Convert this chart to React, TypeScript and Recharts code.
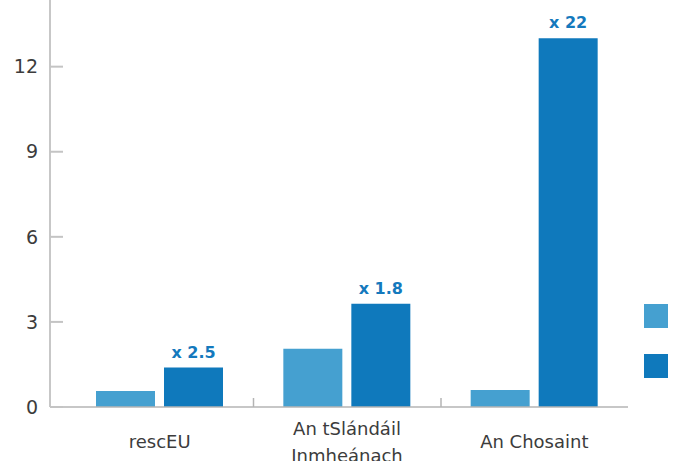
import { BarChart, Bar, XAxis, YAxis, Legend, LabelList } from "recharts"

const categories = ["rescEU", "An tSlándáil Inmheánach", "An Chosaint"]
const seriesNames = ["2014-2020", "2021-2027"]
const before = [0.56, 2.05, 0.6]
const after = [1.39, 3.64, 13.0]
const multipliers = ["x 2.5", "x 1.8", "x 22"]
const yTicks = [0, 3, 6, 9, 12]
const boundaryTicks = [1, 2]

const data = categories.map((name, i) => ({
  name,
  before: before[i],
  after: after[i],
  mult: multipliers[i],
}))

const font = "'DejaVu Sans', sans-serif"
const axisGrey = "#b4b4b4"

// long labels go on two lines, split at the last space
function splitLabel(s: string) {
  if (s.length <= 14) return [s]
  const k = s.lastIndexOf(" ")
  return [s.slice(0, k), s.slice(k + 1)]
}

function CategoryTick({ x, y, payload }: any) {
  const lines = splitLabel(String(payload.value))
  const lh = 27
  const first = 6 - ((lines.length - 1) * lh) / 2
  return (
    <text x={x} y={y} textAnchor="middle" fontSize={18} fill="#3c3c3c" fontFamily={font}>
      {lines.map((l, i) => (
        <tspan key={i} x={x} dy={i === 0 ? first : lh}>{l}</tspan>
      ))}
    </text>
  )
}

function LegendSquares({ payload }: any) {
  return (
    <div>
      {(payload || []).map((p: any) => (
        <div key={p.value} style={{ width: 24, height: 24, background: p.color, marginBottom: 26 }} />
      ))}
    </div>
  )
}

export default function App() {
  return (
    <div style={{ position: "absolute", left: 0, top: 0, width: 676, height: 461, background: "#fff" }}>
      <BarChart width={676} height={461} data={data} margin={{ top: 0, right: 48, left: 0, bottom: 0 }}
        barCategoryGap={30} barGap={9}>
        <XAxis dataKey="name" padding={{ left: 16, right: 0 }} interval={0}
          axisLine={{ stroke: axisGrey, strokeWidth: 1.5 }} tickLine={false} tickSize={0} tickMargin={35}
          height={54} tick={<CategoryTick />} />
        {/* point axis shifted by one band: its ticks fall on the category boundaries */}
        <XAxis xAxisId="b" scale="point" ticks={boundaryTicks} interval={0}
          padding={{ left: 16, right: 187 }} mirror axisLine={false} tickSize={9}
          tickLine={{ stroke: axisGrey, strokeWidth: 1.5 }} tick={{ fontSize: 0 }} tickFormatter={() => ""} />
        <YAxis width={50} domain={[0, 14.35]} ticks={yTicks} tickSize={-13} tickMargin={25}
          axisLine={{ stroke: axisGrey, strokeWidth: 1.5 }} tickLine={{ stroke: "#c4c4c4", strokeWidth: 2 }}
          tick={{ fontSize: 19, fill: "#3c3c3c", fontFamily: font }} />
        <Legend layout="vertical" align="center" verticalAlign="middle" content={<LegendSquares />}
          wrapperStyle={{ left: 644, top: 304, width: 24 }} />
        <Bar dataKey="before" name={seriesNames[0]} fill="#45a0d0" isAnimationActive={false} />
        <Bar dataKey="after" name={seriesNames[1]} fill="#0f79bc" isAnimationActive={false}>
          <LabelList dataKey="mult" position="top" offset={10} fill="#1479bd" fontSize={16}
            fontWeight="bold" fontFamily={font} />
        </Bar>
      </BarChart>
    </div>
  )
}
